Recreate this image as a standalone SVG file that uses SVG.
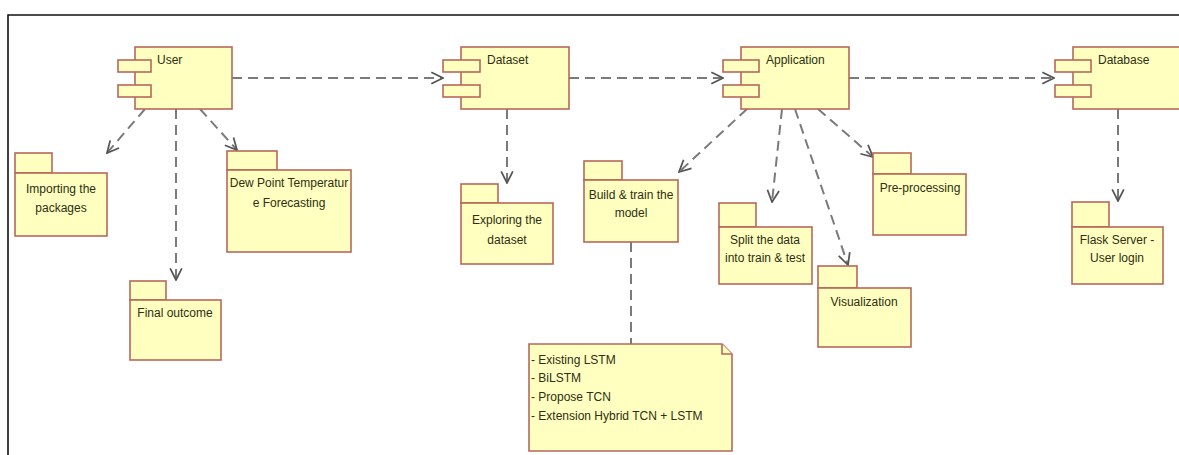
<svg xmlns="http://www.w3.org/2000/svg" width="1179" height="455" viewBox="0 0 1179 455">
<style>
.box{fill:#ffffbf;stroke:#b8685a;stroke-width:1.6}
.t{font-family:"Liberation Sans",Arial,sans-serif;font-size:12px;fill:#2e2e14}
.c{text-anchor:middle}
.dash{fill:none;stroke:#7a7a7a;stroke-width:2;stroke-dasharray:10 6}
.frame{stroke:#111;stroke-width:1.6;fill:none}
</style>
<defs>
<marker id="arr" markerUnits="userSpaceOnUse" markerWidth="14" markerHeight="14" refX="10" refY="5" orient="auto" viewBox="-1 -1 12 12">
<path d="M0,0 L10,5 L0,10" fill="none" stroke="#555" stroke-width="1.5"/>
</marker>
</defs>
<rect width="1179" height="455" fill="#fff"/>
<path class="frame" d="M8,455 V15 H1179"/>

<g id="connectors">
<line class="dash" x1="232" y1="78" x2="443" y2="78" marker-end="url(#arr)"/>
<line class="dash" x1="569" y1="78" x2="723" y2="78" marker-end="url(#arr)"/>
<line class="dash" x1="849" y1="78" x2="1054" y2="78" marker-end="url(#arr)"/>
<line class="dash" x1="145" y1="109" x2="107" y2="153" marker-end="url(#arr)"/>
<line class="dash" x1="176" y1="109" x2="176" y2="280" marker-end="url(#arr)"/>
<line class="dash" x1="200" y1="109" x2="237" y2="150" marker-end="url(#arr)"/>
<line class="dash" x1="507" y1="109" x2="507" y2="183" marker-end="url(#arr)"/>
<line class="dash" x1="747" y1="109" x2="679" y2="172" marker-end="url(#arr)"/>
<line class="dash" x1="782" y1="109" x2="772" y2="202" marker-end="url(#arr)"/>
<line class="dash" x1="795" y1="109" x2="848" y2="265" marker-end="url(#arr)"/>
<line class="dash" x1="818" y1="109" x2="873" y2="157" marker-end="url(#arr)"/>
<line class="dash" x1="1118" y1="109" x2="1118" y2="201" marker-end="url(#arr)"/>
<line class="dash" x1="631" y1="242" x2="631" y2="344"/>
</g>

<g id="user">
<rect class="box" x="135" y="47" width="97" height="62"/>
<rect class="box" x="118" y="60" width="33" height="12"/>
<rect class="box" x="118" y="85" width="33" height="12"/>
<text class="t" x="157" y="64">User</text>
</g>
<g id="dataset">
<rect class="box" x="461" y="47" width="108" height="62"/>
<rect class="box" x="443" y="60" width="37" height="12"/>
<rect class="box" x="443" y="85" width="37" height="12"/>
<text class="t" x="487" y="64">Dataset</text>
</g>
<g id="application">
<rect class="box" x="741" y="47" width="108" height="62"/>
<rect class="box" x="723" y="60" width="36" height="12"/>
<rect class="box" x="723" y="85" width="36" height="12"/>
<text class="t" x="766" y="64">Application</text>
</g>
<g id="database">
<rect class="box" x="1073" y="47" width="110" height="62"/>
<rect class="box" x="1055" y="60" width="36" height="12"/>
<rect class="box" x="1055" y="85" width="36" height="12"/>
<text class="t" x="1098" y="64">Database</text>
</g>

<g id="importing">
<rect class="box" x="15" y="153" width="37" height="20"/>
<rect class="box" x="15" y="173" width="92" height="63"/>
<text class="t c" x="61" y="193">Importing the</text>
<text class="t c" x="61" y="212">packages</text>
</g>
<g id="dewpoint">
<rect class="box" x="227" y="151" width="50" height="19"/>
<rect class="box" x="227" y="170" width="124" height="82"/>
<text class="t c" x="289" y="187">Dew Point Temperatur</text>
<text class="t c" x="289" y="207">e Forecasting</text>
</g>
<g id="final">
<rect class="box" x="130" y="281" width="36" height="19"/>
<rect class="box" x="130" y="300" width="91" height="60"/>
<text class="t c" x="175" y="317">Final outcome</text>
</g>
<g id="exploring">
<rect class="box" x="461" y="184" width="37" height="19"/>
<rect class="box" x="461" y="203" width="92" height="61"/>
<text class="t c" x="507" y="224">Exploring the</text>
<text class="t c" x="507" y="244">dataset</text>
</g>
<g id="build">
<rect class="box" x="584" y="161" width="38" height="19"/>
<rect class="box" x="584" y="180" width="94" height="62"/>
<text class="t c" x="631" y="199">Build &amp; train the</text>
<text class="t c" x="631" y="217">model</text>
</g>
<g id="split">
<rect class="box" x="719" y="203" width="37" height="24"/>
<rect class="box" x="719" y="227" width="93" height="57"/>
<text class="t c" x="765" y="244">Split the data</text>
<text class="t c" x="765" y="262">into train &amp; test</text>
</g>
<g id="visualization">
<rect class="box" x="818" y="266" width="39" height="22"/>
<rect class="box" x="818" y="288" width="93" height="59"/>
<text class="t c" x="864" y="306">Visualization</text>
</g>
<g id="preprocessing">
<rect class="box" x="873" y="153" width="38" height="21"/>
<rect class="box" x="873" y="174" width="93" height="61"/>
<text class="t c" x="920" y="192">Pre-processing</text>
</g>
<g id="flask">
<rect class="box" x="1072" y="202" width="37" height="25"/>
<rect class="box" x="1072" y="227" width="91" height="57"/>
<text class="t c" x="1117" y="244">Flask Server -</text>
<text class="t c" x="1117" y="262">User login</text>
</g>
<g id="note">
<path class="box" d="M529,344 H722 L732,354 V451 H529 Z"/>
<path class="box" d="M722,344 V354 H732" fill="none"/>
<text class="t" x="531" y="364">- Existing LSTM</text>
<text class="t" x="531" y="382">- BiLSTM</text>
<text class="t" x="531" y="401">- Propose TCN</text>
<text class="t" x="531" y="420">- Extension Hybrid TCN + LSTM</text>
</g>
</svg>
